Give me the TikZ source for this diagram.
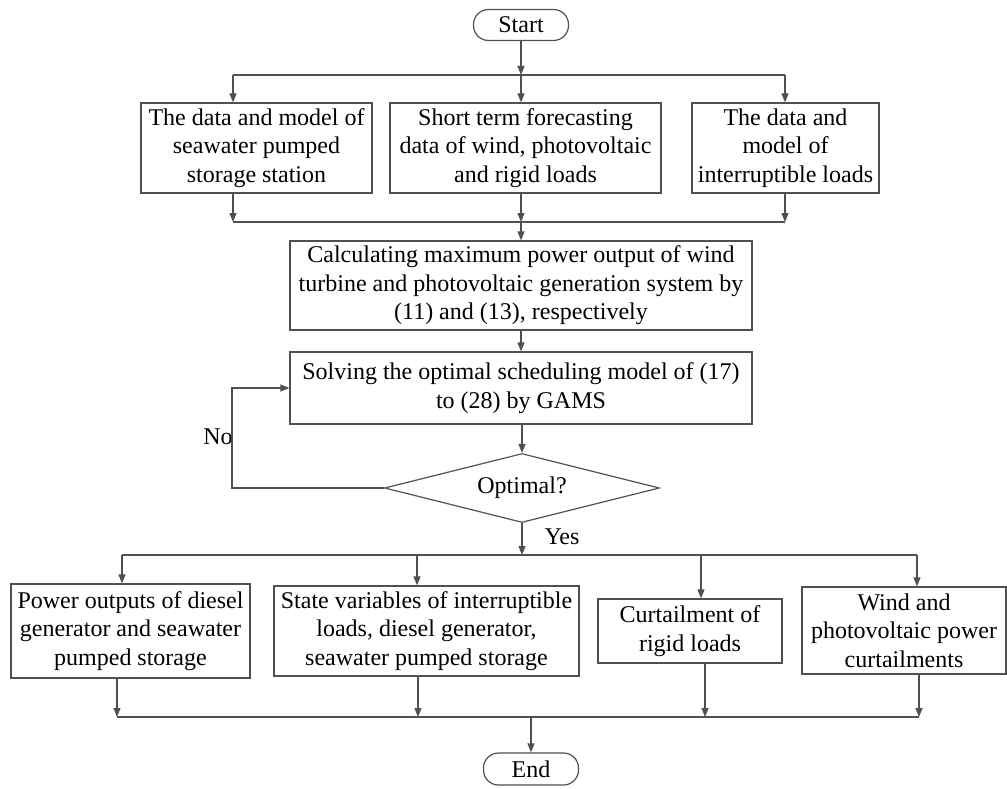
\documentclass[tikz,border=0pt]{standalone}
\usepackage{fontspec}
\setmainfont{Liberation Serif}
\usetikzlibrary{shapes.geometric,arrows.meta}
\definecolor{lc}{HTML}{505050}
\begin{document}
\begin{tikzpicture}[x=1pt,y=-1pt,
  every node/.style={font=\fontsize{24}{28.5}\selectfont, text=black},
  box/.style={draw=lc, line width=1.2pt, rectangle, align=center, inner sep=1pt},
  term/.style={draw=lc, line width=1.2pt, rectangle, rounded corners=15pt, minimum width=95pt, minimum height=31pt, inner sep=0pt},
  dec/.style={draw=lc, line width=1.2pt, diamond, aspect=4, minimum width=275pt, minimum height=69pt, inner sep=0pt},
  ln/.style={draw=lc, line width=1.2pt},
  arr/.style={ln, -{Triangle[length=9pt,width=7pt]}},
  lbl/.style={inner sep=0pt}]
\useasboundingbox (0,0) rectangle (1007,789);

% nodes
\node[term] (start) at (521,25) {Start};
\node[box, minimum width=231pt, minimum height=90pt] (b1) at (256.5,148) {The data and model of\\seawater pumped\\storage station};
\node[box, minimum width=271pt, minimum height=90pt] (b2) at (525.5,148) {Short term forecasting\\data of wind, photovoltaic\\and rigid loads};
\node[box, minimum width=187pt, minimum height=90pt] (b3) at (785.5,148) {The data and\\model of\\interruptible loads};
\node[box, minimum width=462pt, minimum height=89pt] (calc) at (521,285.5) {Calculating maximum power output of wind\\turbine and photovoltaic generation system by\\(11) and (13), respectively};
\node[box, minimum width=462pt, minimum height=72pt] (solve) at (521,388) {Solving the optimal scheduling model of (17)\\to (28) by GAMS};
\node[dec] (dia) at (522,488) {Optimal?};
\node[lbl] (yes) at (562,537) {Yes};
\node[lbl] (no) at (218,437) {No};
\node[box, minimum width=239pt, minimum height=94pt] (A) at (130.5,631) {Power outputs of diesel\\generator and seawater\\pumped storage};
\node[box, minimum width=305pt, minimum height=90pt] (B) at (426.5,631) {State variables of interruptible\\loads, diesel generator,\\seawater pumped storage};
\node[box, minimum width=184pt, minimum height=64pt] (C) at (690,631) {Curtailment of\\rigid loads};
\node[box, minimum width=204pt, minimum height=87pt] (D) at (904,630.5) {Wind and\\photovoltaic power\\curtailments};
\node[term, minimum height=32pt] (end) at (531,769) {End};

% junction coordinates
\coordinate (tL) at (233,75);
\coordinate (tM) at (521,75);
\coordinate (tR) at (785,75);
\coordinate (mL) at (233,222);
\coordinate (mM) at (521,222);
\coordinate (mR) at (785,222);
\coordinate (fb) at (232,388);
\coordinate (yM) at (522,555);
\coordinate (y1) at (122,555);
\coordinate (y2) at (417,555);
\coordinate (y3) at (701,555);
\coordinate (y4) at (917,555);
\coordinate (c1) at (117,717);
\coordinate (c2) at (418,717);
\coordinate (c3) at (705,717);
\coordinate (c4) at (919,717);
\coordinate (cM) at (531,717);

% top fan-out
\draw[arr] (start) -- (tM);
\draw[ln] (tL) -- (tR);
\draw[arr] (tL) -- (tL |- b1.north);
\draw[arr] (tM) -- (tM |- b2.north);
\draw[arr] (tR) -- (tR |- b3.north);

% fan-in
\draw[arr] (mL |- b1.south) -- (mL);
\draw[arr] (mM |- b2.south) -- (mM);
\draw[arr] (mR |- b3.south) -- (mR);
\draw[ln] (mL) -- (mR);
\draw[arr] (mM) -- (calc.north);

\draw[arr] (calc) -- (solve);
\draw[arr] (solve.south -| dia.north) -- (dia.north);

% feedback
\draw[arr] (dia.west) -- (dia.west -| fb) -- (fb) -- (solve.west);

% yes branch
\draw[arr] (dia.south) -- (yM);
\draw[ln] (y1) -- (y4);
\draw[arr] (y1) -- (y1 |- A.north);
\draw[arr] (y2) -- (y2 |- B.north);
\draw[arr] (y3) -- (y3 |- C.north);
\draw[arr] (y4) -- (y4 |- D.north);

% collect
\draw[arr] (c1 |- A.south) -- (c1);
\draw[arr] (c2 |- B.south) -- (c2);
\draw[arr] (c3 |- C.south) -- (c3);
\draw[arr] (c4 |- D.south) -- (c4);
\draw[ln] (c1) -- (c4);
\draw[arr] (cM) -- (end);
\end{tikzpicture}
\end{document}
